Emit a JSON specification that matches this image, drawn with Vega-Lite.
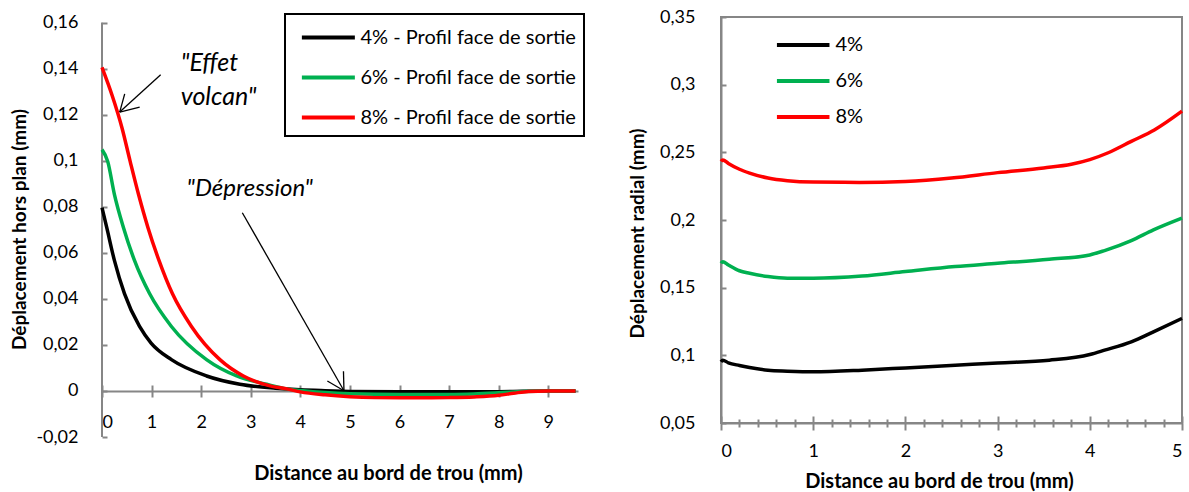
{
  "$schema": "https://vega.github.io/schema/vega-lite/v6.json",
  "background": "white",
  "padding": {"left": 10, "top": 7, "right": 0, "bottom": 0},
  "config": {
    "locale": {"number": {"decimal": ",", "thousands": " ", "grouping": [3], "currency": ["", " €"], "minus": "-"}},
    "font": "Lato",
    "axis": {"labelFont": "Lato", "titleFont": "Lato", "labelFontSize": 18, "titleFontSize": 20, "titleFontWeight": "bold", "labelColor": "black", "titleColor": "black", "domainColor": "#868686", "tickColor": "#868686", "domainWidth": 2, "tickWidth": 2, "grid": false},
    "axisY": {"titleFontSize": 19},
    "legend": {"labelFont": "Lato", "labelFontSize": 20, "labelColor": "black", "labelLimit": 400}
  },
  "datasets": {
    "left": [
      {"x": 0, "y": 0.0796, "serie": "4% - Profil face de sortie"},
      {"x": 0.095, "y": 0.071, "serie": "4% - Profil face de sortie"},
      {"x": 0.25, "y": 0.0567, "serie": "4% - Profil face de sortie"},
      {"x": 0.453, "y": 0.0423, "serie": "4% - Profil face de sortie"},
      {"x": 0.757, "y": 0.028, "serie": "4% - Profil face de sortie"},
      {"x": 0.99, "y": 0.0208, "serie": "4% - Profil face de sortie"},
      {"x": 1.4, "y": 0.0136, "serie": "4% - Profil face de sortie"},
      {"x": 2.11, "y": 0.0065, "serie": "4% - Profil face de sortie"},
      {"x": 2.78, "y": 0.0029, "serie": "4% - Profil face de sortie"},
      {"x": 3.5, "y": 0.0012, "serie": "4% - Profil face de sortie"},
      {"x": 4, "y": 0.0005, "serie": "4% - Profil face de sortie"},
      {"x": 4.5, "y": 0.0001, "serie": "4% - Profil face de sortie"},
      {"x": 5, "y": -0.0002, "serie": "4% - Profil face de sortie"},
      {"x": 6, "y": -0.0004, "serie": "4% - Profil face de sortie"},
      {"x": 7, "y": -0.0004, "serie": "4% - Profil face de sortie"},
      {"x": 8, "y": -0.0003, "serie": "4% - Profil face de sortie"},
      {"x": 8.5, "y": -0.0001, "serie": "4% - Profil face de sortie"},
      {"x": 9, "y": 0, "serie": "4% - Profil face de sortie"},
      {"x": 9.55, "y": 0, "serie": "4% - Profil face de sortie"},
      {"x": 0, "y": 0.1048, "serie": "6% - Profil face de sortie"},
      {"x": 0.115, "y": 0.0997, "serie": "6% - Profil face de sortie"},
      {"x": 0.25, "y": 0.0854, "serie": "6% - Profil face de sortie"},
      {"x": 0.432, "y": 0.071, "serie": "6% - Profil face de sortie"},
      {"x": 0.655, "y": 0.0567, "serie": "6% - Profil face de sortie"},
      {"x": 0.959, "y": 0.0423, "serie": "6% - Profil face de sortie"},
      {"x": 1.4, "y": 0.028, "serie": "6% - Profil face de sortie"},
      {"x": 2.108, "y": 0.0136, "serie": "6% - Profil face de sortie"},
      {"x": 2.716, "y": 0.0065, "serie": "6% - Profil face de sortie"},
      {"x": 3.32, "y": 0.0029, "serie": "6% - Profil face de sortie"},
      {"x": 3.75, "y": 0.0008, "serie": "6% - Profil face de sortie"},
      {"x": 4, "y": 0.0002, "serie": "6% - Profil face de sortie"},
      {"x": 4.5, "y": -0.0007, "serie": "6% - Profil face de sortie"},
      {"x": 5, "y": -0.0012, "serie": "6% - Profil face de sortie"},
      {"x": 6, "y": -0.0015, "serie": "6% - Profil face de sortie"},
      {"x": 7, "y": -0.0015, "serie": "6% - Profil face de sortie"},
      {"x": 7.5, "y": -0.0013, "serie": "6% - Profil face de sortie"},
      {"x": 8, "y": -0.0008, "serie": "6% - Profil face de sortie"},
      {"x": 8.5, "y": -0.0002, "serie": "6% - Profil face de sortie"},
      {"x": 9, "y": 0, "serie": "6% - Profil face de sortie"},
      {"x": 9.55, "y": 0, "serie": "6% - Profil face de sortie"},
      {"x": 0, "y": 0.1405, "serie": "8% - Profil face de sortie"},
      {"x": 0.203, "y": 0.1284, "serie": "8% - Profil face de sortie"},
      {"x": 0.405, "y": 0.1141, "serie": "8% - Profil face de sortie"},
      {"x": 0.568, "y": 0.0997, "serie": "8% - Profil face de sortie"},
      {"x": 0.736, "y": 0.0854, "serie": "8% - Profil face de sortie"},
      {"x": 0.926, "y": 0.071, "serie": "8% - Profil face de sortie"},
      {"x": 1.149, "y": 0.0567, "serie": "8% - Profil face de sortie"},
      {"x": 1.419, "y": 0.0423, "serie": "8% - Profil face de sortie"},
      {"x": 1.804, "y": 0.028, "serie": "8% - Profil face de sortie"},
      {"x": 2.378, "y": 0.0136, "serie": "8% - Profil face de sortie"},
      {"x": 2.851, "y": 0.0065, "serie": "8% - Profil face de sortie"},
      {"x": 3.39, "y": 0.0022, "serie": "8% - Profil face de sortie"},
      {"x": 3.75, "y": 0.0008, "serie": "8% - Profil face de sortie"},
      {"x": 4, "y": -0.0004, "serie": "8% - Profil face de sortie"},
      {"x": 4.5, "y": -0.0017, "serie": "8% - Profil face de sortie"},
      {"x": 5, "y": -0.0025, "serie": "8% - Profil face de sortie"},
      {"x": 5.5, "y": -0.0029, "serie": "8% - Profil face de sortie"},
      {"x": 6, "y": -0.003, "serie": "8% - Profil face de sortie"},
      {"x": 6.5, "y": -0.003, "serie": "8% - Profil face de sortie"},
      {"x": 7, "y": -0.0029, "serie": "8% - Profil face de sortie"},
      {"x": 7.5, "y": -0.0026, "serie": "8% - Profil face de sortie"},
      {"x": 8, "y": -0.0019, "serie": "8% - Profil face de sortie"},
      {"x": 8.3, "y": -0.001, "serie": "8% - Profil face de sortie"},
      {"x": 8.6, "y": -0.0002, "serie": "8% - Profil face de sortie"},
      {"x": 9, "y": 0, "serie": "8% - Profil face de sortie"},
      {"x": 9.55, "y": 0, "serie": "8% - Profil face de sortie"}
    ],
    "axisline": [{"x": 0, "y": -0.02, "ye": 0.16}],
    "arrows": [
      {"x": 1.183, "y": 0.1373, "xe": 0.357, "ye": 0.1211},
      {"x": 0.357, "y": 0.1211, "xe": 0.76, "ye": 0.1233},
      {"x": 0.357, "y": 0.1211, "xe": 0.458, "ye": 0.129},
      {"x": 2.83, "y": 0.0774, "xe": 4.88, "ye": 0.0001},
      {"x": 4.88, "y": 0.0001, "xe": 4.87, "ye": 0.0086},
      {"x": 4.88, "y": 0.0001, "xe": 4.545, "ye": 0.0043}
    ],
    "volcan": [{"x": 1.587, "y": 0.1391, "label": "\"Effet\nvolcan\""}],
    "depression": [{"x": 2.98, "y": 0.0876, "label": "\"Dépression\""}],
    "right": [
      {"x": 0, "y": 0.0952, "serie": "4%"},
      {"x": 0.02, "y": 0.0964, "serie": "4%"},
      {"x": 0.08, "y": 0.0945, "serie": "4%"},
      {"x": 0.2, "y": 0.0925, "serie": "4%"},
      {"x": 0.31, "y": 0.091, "serie": "4%"},
      {"x": 0.51, "y": 0.089, "serie": "4%"},
      {"x": 0.72, "y": 0.0883, "serie": "4%"},
      {"x": 1.0, "y": 0.0878, "serie": "4%"},
      {"x": 1.53, "y": 0.089, "serie": "4%"},
      {"x": 2.0, "y": 0.0907, "serie": "4%"},
      {"x": 2.54, "y": 0.0927, "serie": "4%"},
      {"x": 3.0, "y": 0.0944, "serie": "4%"},
      {"x": 3.56, "y": 0.0964, "serie": "4%"},
      {"x": 4.0, "y": 0.1006, "serie": "4%"},
      {"x": 4.16, "y": 0.1038, "serie": "4%"},
      {"x": 4.45, "y": 0.11, "serie": "4%"},
      {"x": 4.69, "y": 0.1174, "serie": "4%"},
      {"x": 5.0, "y": 0.1273, "serie": "4%"},
      {"x": 0, "y": 0.168, "serie": "6%"},
      {"x": 0.02, "y": 0.1692, "serie": "6%"},
      {"x": 0.08, "y": 0.1668, "serie": "6%"},
      {"x": 0.2, "y": 0.1625, "serie": "6%"},
      {"x": 0.31, "y": 0.1606, "serie": "6%"},
      {"x": 0.51, "y": 0.1582, "serie": "6%"},
      {"x": 0.72, "y": 0.157, "serie": "6%"},
      {"x": 1.0, "y": 0.157, "serie": "6%"},
      {"x": 1.53, "y": 0.1586, "serie": "6%"},
      {"x": 2.0, "y": 0.1619, "serie": "6%"},
      {"x": 2.54, "y": 0.1656, "serie": "6%"},
      {"x": 3.0, "y": 0.168, "serie": "6%"},
      {"x": 3.56, "y": 0.171, "serie": "6%"},
      {"x": 4.0, "y": 0.1742, "serie": "6%"},
      {"x": 4.16, "y": 0.1774, "serie": "6%"},
      {"x": 4.45, "y": 0.1848, "serie": "6%"},
      {"x": 4.69, "y": 0.1927, "serie": "6%"},
      {"x": 5.0, "y": 0.2014, "serie": "6%"},
      {"x": 0, "y": 0.2433, "serie": "8%"},
      {"x": 0.02, "y": 0.2444, "serie": "8%"},
      {"x": 0.08, "y": 0.2418, "serie": "8%"},
      {"x": 0.2, "y": 0.2375, "serie": "8%"},
      {"x": 0.31, "y": 0.2347, "serie": "8%"},
      {"x": 0.51, "y": 0.231, "serie": "8%"},
      {"x": 0.72, "y": 0.229, "serie": "8%"},
      {"x": 1.0, "y": 0.228, "serie": "8%"},
      {"x": 1.5, "y": 0.2278, "serie": "8%"},
      {"x": 2.0, "y": 0.2285, "serie": "8%"},
      {"x": 2.5, "y": 0.231, "serie": "8%"},
      {"x": 3.0, "y": 0.235, "serie": "8%"},
      {"x": 3.5, "y": 0.2385, "serie": "8%"},
      {"x": 3.8, "y": 0.2412, "serie": "8%"},
      {"x": 4.0, "y": 0.2446, "serie": "8%"},
      {"x": 4.2, "y": 0.2497, "serie": "8%"},
      {"x": 4.45, "y": 0.2581, "serie": "8%"},
      {"x": 4.7, "y": 0.2665, "serie": "8%"},
      {"x": 5.0, "y": 0.2804, "serie": "8%"}
    ]
  },
  "spacing": 42,
  "resolve": {"scale": {"color": "independent"}},
  "hconcat": [
    {
      "width": 476,
      "height": 420,
      "view": {"stroke": null},
      "resolve": {"axis": {"x": "independent"}},
      "layer": [
        {
          "data": {"name": "axisline"},
          "mark": {"type": "rule", "color": "#868686", "strokeWidth": 2},
          "encoding": {
            "x": {"field": "x", "type": "quantitative", "axis": null},
            "y": {"field": "y", "type": "quantitative"},
            "y2": {"field": "ye"}
          }
        },
        {
          "data": {"name": "left"},
          "mark": {"type": "line", "strokeWidth": 3.5, "interpolate": "monotone"},
          "encoding": {
            "x": {"field": "x", "type": "quantitative", "scale": {"domain": [0, 9.6], "nice": false, "zero": false},
              "axis": {"orient": "bottom", "offset": -46, "values": [0, 1, 2, 3, 4, 5, 6, 7, 8, 9], "tickSize": 6, "labelPadding": 16, "format": "~g",
                "title": "Distance au bord de trou (mm)", "titleX": 286, "titleY": 82, "titleBaseline": "middle", "titleAnchor": "middle", "titleAlign": "center"}},
            "y": {"field": "y", "type": "quantitative", "scale": {"domain": [-0.02, 0.1624], "nice": false, "zero": false},
              "axis": {"values": [-0.02, 0, 0.02, 0.04, 0.06, 0.08, 0.1, 0.12, 0.14, 0.16], "format": "~g", "tickSize": -5, "labelPadding": 29, "domain": false,
                "title": "Déplacement hors plan (mm)", "titleX": -83, "titleY": 212, "titleBaseline": "middle", "titleAlign": "center", "titleAngle": -90}},
            "color": {"field": "serie", "type": "nominal",
              "scale": {"domain": ["4% - Profil face de sortie", "6% - Profil face de sortie", "8% - Profil face de sortie"], "range": ["#000000", "#00B050", "#FF0000"]},
              "legend": {"title": null, "orient": "none", "legendX": 183, "legendY": -3, "symbolType": "M-0.5,0H3.5", "symbolSize": 702, "symbolStrokeWidth": 4,
                "labelOffset": 36.5, "rowPadding": 14, "padding": 8, "strokeColor": "black",
                "encode": {"legend": {"update": {"strokeWidth": {"value": 2}}}}}}
          }
        },
        {
          "data": {"name": "arrows"},
          "mark": {"type": "rule", "color": "black", "strokeWidth": 1.3},
          "encoding": {
            "x": {"field": "x", "type": "quantitative", "axis": {"orient": "bottom", "offset": -46, "values": [0, 1, 2, 3, 4, 5, 6, 7, 8, 9], "tickSize": -6, "labels": false, "domain": false, "title": null}},
            "y": {"field": "y", "type": "quantitative"},
            "x2": {"field": "xe"},
            "y2": {"field": "ye"}
          }
        },
        {
          "data": {"name": "volcan"},
          "mark": {"type": "text", "font": "Lato", "fontSize": 25, "fontStyle": "italic", "align": "left", "baseline": "alphabetic", "lineBreak": "\n", "lineHeight": 34, "color": "black"},
          "encoding": {
            "x": {"field": "x", "type": "quantitative", "axis": null},
            "y": {"field": "y", "type": "quantitative"},
            "text": {"field": "label"}
          }
        },
        {
          "data": {"name": "depression"},
          "mark": {"type": "text", "font": "Lato", "fontSize": 24, "fontStyle": "italic", "align": "center", "baseline": "middle", "color": "black"},
          "encoding": {
            "x": {"field": "x", "type": "quantitative", "axis": null},
            "y": {"field": "y", "type": "quantitative"},
            "text": {"field": "label"}
          }
        }
      ]
    },
    {
      "width": 461,
      "height": 406,
      "view": {"stroke": "#868686", "strokeWidth": 2},
      "resolve": {"axis": {"x": "independent"}},
      "layer": [
        {
          "data": {"name": "right"},
          "mark": {"type": "line", "strokeWidth": 3.5, "interpolate": "monotone"},
          "encoding": {
            "x": {"field": "x", "type": "quantitative", "scale": {"domain": [0, 5], "nice": false, "zero": false},
              "axis": {"orient": "bottom", "values": [0, 0.2, 0.4, 0.6, 0.8, 1, 1.2, 1.4, 1.6, 1.8, 2, 2.2, 2.4, 2.6, 2.8, 3, 3.2, 3.4, 3.6, 3.8, 4, 4.2, 4.4, 4.6, 4.8, 5],
                "labelExpr": "datum.value % 1 === 0 ? datum.label : ''", "format": "~g",
                "tickSize": {"condition": {"test": "datum.value % 1 === 0", "value": 7}, "value": 4}, "labelPadding": 12.5,
                "title": "Distance au bord de trou (mm)", "titleX": 218, "titleY": 58, "titleBaseline": "middle", "titleAlign": "center"}},
            "y": {"field": "y", "type": "quantitative", "scale": {"domain": [0.05, 0.35], "nice": false, "zero": false},
              "axis": {"values": [0.05, 0.1, 0.15, 0.2, 0.25, 0.3, 0.35], "format": "~g", "tickSize": -5, "labelPadding": 31,
                "title": "Déplacement radial (mm)", "titleX": -84, "titleY": 216, "titleBaseline": "middle", "titleAlign": "center", "titleAngle": -90}},
            "color": {"field": "serie", "type": "nominal",
              "scale": {"domain": ["4%", "6%", "8%"], "range": ["#000000", "#00B050", "#FF0000"]},
              "legend": {"title": null, "orient": "none", "legendX": 47, "legendY": 12.4, "symbolType": "M-0.5,0H3.5", "symbolSize": 690, "symbolStrokeWidth": 4,
                "labelOffset": 36.5, "rowPadding": 10, "padding": 0}}
          }
        },
        {
          "data": {"name": "right"},
          "mark": {"type": "line", "strokeOpacity": 0},
          "encoding": {
            "x": {"field": "x", "type": "quantitative", "axis": {"orient": "bottom", "values": [0, 0.2, 0.4, 0.6, 0.8, 1, 1.2, 1.4, 1.6, 1.8, 2, 2.2, 2.4, 2.6, 2.8, 3, 3.2, 3.4, 3.6, 3.8, 4, 4.2, 4.4, 4.6, 4.8, 5],
              "tickSize": {"condition": {"test": "datum.value % 1 === 0", "value": -7}, "value": -4}, "labels": false, "domain": false, "title": null}},
            "y": {"field": "y", "type": "quantitative"}
          }
        }
      ]
    }
  ]
}
